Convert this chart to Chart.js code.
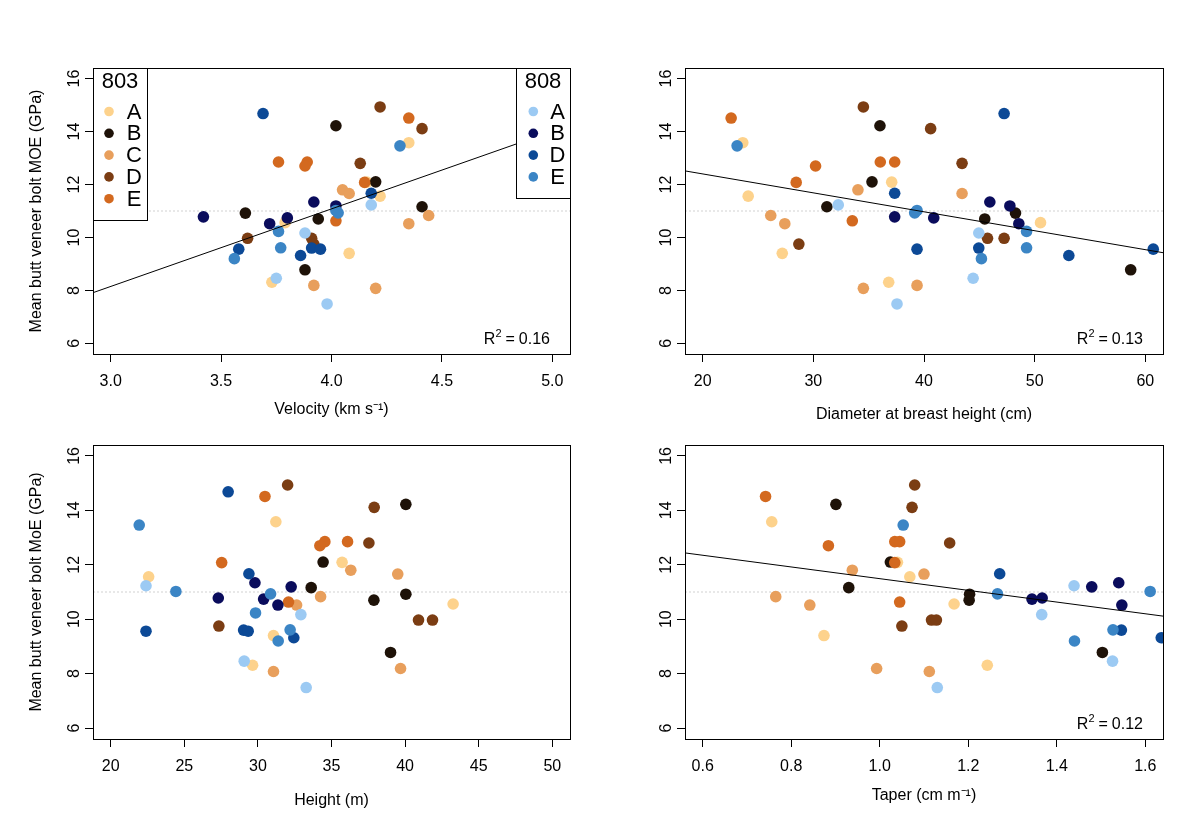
<!DOCTYPE html>
<html>
<head>
<meta charset="utf-8">
<script src="https://cdn.jsdelivr.net/npm/chart.js@4.4.0/dist/chart.umd.min.js"></script>
<style>
  html, body { margin: 0; padding: 0; background: #fff; }
  #wrap { position: relative; width: 1200px; height: 838px; overflow: hidden; }
  canvas { position: absolute; }
</style>
</head>
<body>
<div id="wrap">
  <canvas id="c1" width="600" height="430" style="left:0;top:0"></canvas>
  <canvas id="c2" width="600" height="430" style="left:600px;top:0"></canvas>
  <canvas id="c3" width="600" height="419" style="left:0;top:419px"></canvas>
  <canvas id="c4" width="600" height="419" style="left:600px;top:419px"></canvas>
</div>
<script>
// one entry per tree: clone group, MOE and the four predictors
const treeGroup = ['803D','808D','803E','803B','803D','803A','808E','803E','803E','803E',
  '803D','803B','803E','803A','803C','808D','803C','803A','808B','808A',
  '808B','803B','808E','808E','803B','803C','808B','808B','803B','803E',
  '803A','803C','808B','808E','808A','803D','803D','803D','808E','808D',
  '808D','808D','803A','808D','808E','803B','808A','803A','803C','803C','808A'];
const moe = [14.93,14.68,14.51,14.22,14.11,13.58,13.46,12.85,12.85,12.70,
  12.80,12.10,12.08,12.09,11.80,11.67,11.66,11.56,11.34,11.23,
  11.19,11.16,11.02,10.93,10.92,10.83,10.78,10.74,10.70,10.63,
  10.56,10.52,10.52,10.23,10.17,9.97,9.97,9.75,9.61,9.60,
  9.56,9.56,9.40,9.32,9.20,8.78,8.46,8.31,8.19,8.08,7.49];
const velocity = [4.22,3.69,4.35,4.02,4.41,4.35,4.31,3.76,3.89,3.88,
  4.13,4.20,4.15,4.16,4.05,4.18,4.08,4.22,3.92,4.18,
  4.02,4.41,4.02,4.03,3.61,4.44,3.42,3.80,3.94,4.02,
  3.79,4.35,3.72,3.76,3.88,3.62,3.91,3.92,3.77,3.91,
  3.58,3.95,4.08,3.86,3.56,3.88,3.75,3.73,3.92,4.20,3.98];
const dbh = [34.52,47.24,22.57,36.02,40.60,23.62,23.11,36.05,37.35,30.2,
  43.44,35.30,28.45,37.08,34.03,37.35,43.44,24.11,45.95,32.25,
  47.76,31.22,39.37,39.16,48.27,26.15,37.35,40.88,45.49,33.52,
  50.53,27.42,48.57,49.27,44.95,45.74,47.24,28.69,49.27,44.95,
  39.37,60.72,27.19,53.09,45.19,58.68,44.44,36.81,39.37,34.52,37.56];
const height = [32.02,27.98,30.48,40.05,37.90,31.22,21.94,34.55,36.09,34.21,
  37.54,34.43,27.54,35.72,36.31,29.39,39.50,22.58,29.80,22.40,
  32.26,33.62,24.43,30.86,40.05,34.26,27.31,30.39,37.88,32.08,
  43.26,32.63,31.36,29.84,32.92,40.91,41.86,27.35,32.19,29.03,
  22.40,29.34,31.06,32.44,31.38,39.01,29.07,29.64,39.69,31.06,33.28];
const taper = [1.079,null,0.742,0.901,1.073,0.756,1.053,1.034,1.045,0.884,
  1.158,1.024,1.034,1.040,0.938,1.271,1.100,1.068,1.540,1.439,
  1.479,0.930,1.611,1.266,1.203,0.765,1.367,1.344,1.202,1.045,
  1.168,0.842,1.547,null,1.366,1.117,1.128,1.050,1.527,1.546,
  null,null,0.874,1.636,1.440,1.503,1.526,1.243,0.993,1.112,1.130];

// axis limits and ticks
const moeLim = [6, 16];
const moeTicks = [6, 8, 10, 12, 14, 16];
const velocityLim = [3, 5];
const velocityTicks = [3.0, 3.5, 4.0, 4.5, 5.0];
const dbhLim = [20, 60];
const dbhTicks = [20, 30, 40, 50, 60];
const heightLim = [20, 50];
const heightTicks = [20, 25, 30, 35, 40, 45, 50];
const taperLim = [0.6, 1.6];
const taperTicks = [0.6, 0.8, 1.0, 1.2, 1.4, 1.6];

// fitted lines [intercept, slope] and R^2
const velocityFit = [-0.64, 2.93];
const dbhFit = [13.83, -0.0715];
const taperFit = [13.64, -2.15];
const r2Labels = ['0.16', '0.13', null, '0.12'];
const refMoe = 11;

const legend803 = ['A', 'B', 'C', 'D', 'E'];
const legend808 = ['A', 'B', 'D', 'E'];

const groupColors = {
  '803A': '#fdd28c', '803B': '#1e1208', '803C': '#e89f5c', '803D': '#7b3d13', '803E': '#d3691f',
  '808A': '#9ccaf3', '808B': '#0a0c5c', '808D': '#0c4996', '808E': '#3b85c5'
};
const drawOrder = ['808E','808D','808B','808A','803E','803D','803C','803B','803A'];
const FONT = '"Liberation Sans", Arial, Helvetica, sans-serif';

const extend = lim => {
  const s = lim[1] - lim[0];
  return [lim[0] - 0.04 * s, lim[1] + 0.04 * s];
};

const framePlugin = {
  id: 'frame',
  afterDatasetsDraw(chart, args, opts) {
    const {ctx, chartArea: a} = chart;
    ctx.save();
    ctx.strokeStyle = '#000';
    ctx.lineWidth = 1;
    ctx.strokeRect(Math.round(a.left) + 0.5, Math.round(a.top) + 0.5,
      Math.round(a.right - a.left), Math.round(a.bottom - a.top));
    ctx.fillStyle = '#000';
    if (opts.r2) {
      ctx.textBaseline = 'alphabetic';
      ctx.textAlign = 'left';
      ctx.font = '16px ' + FONT;
      const wR = ctx.measureText('R').width;
      const wEq = ctx.measureText('=').width;
      const wV = ctx.measureText(opts.r2).width;
      ctx.font = '11px ' + FONT;
      const w2 = ctx.measureText('2').width;
      const gap = 4;
      let x = a.right - 20 - (wR + w2 + gap + wEq + gap + wV);
      const y = a.bottom - 10;
      ctx.font = '16px ' + FONT;
      ctx.fillText('R', x, y);
      ctx.font = '11px ' + FONT;
      ctx.fillText('2', x + wR, y - 7);
      ctx.font = '16px ' + FONT;
      ctx.fillText('=', x + wR + w2 + gap, y);
      ctx.fillText(opts.r2, x + wR + w2 + gap + wEq + gap, y);
    }
    if (opts.legend) {
      const boxes = [
        {title: '803', clone: '803', items: legend803, x: a.left, h: 152, dotX: 16, txtX: 41},
        {title: '808', clone: '808', items: legend808, x: a.right - 54, h: 130, dotX: 17.3, txtX: 41.5}
      ];
      boxes.forEach(b => {
        ctx.fillStyle = '#fff';
        ctx.fillRect(Math.round(b.x) + 0.5, Math.round(a.top) + 0.5, 54, b.h);
        ctx.strokeStyle = '#000';
        ctx.strokeRect(Math.round(b.x) + 0.5, Math.round(a.top) + 0.5, 54, b.h);
        ctx.fillStyle = '#000';
        ctx.font = '22px ' + FONT;
        ctx.textAlign = 'center';
        ctx.textBaseline = 'middle';
        ctx.fillText(b.title, b.x + 27, a.top + 14);
        b.items.forEach((lab, i) => {
          const y = a.top + 43.5 + i * 21.8;
          ctx.fillStyle = groupColors[b.clone + lab];
          ctx.beginPath();
          ctx.arc(b.x + b.dotX, y, 4.8, 0, Math.PI * 2);
          ctx.fill();
          ctx.fillStyle = '#000';
          ctx.fillText(lab, b.x + b.txtX, y + 1);
        });
      });
    }
    ctx.restore();
  }
};

function makePanel(p) {
  const [xMin, xMax] = extend(p.lim);
  const [yMin, yMax] = extend(moeLim);
  const datasets = [];
  if (p.fit) {
    datasets.push({
      data: [{x: xMin, y: p.fit[0] + p.fit[1] * xMin}, {x: xMax, y: p.fit[0] + p.fit[1] * xMax}],
      showLine: true, pointRadius: 0, borderColor: '#000', borderWidth: 1, clip: 0
    });
  }
  drawOrder.forEach(g => {
    const pts = [];
    moe.forEach((y, i) => {
      if (treeGroup[i] === g && p.x[i] !== null) pts.push({x: p.x[i], y: y});
    });
    datasets.push({
      data: pts, pointRadius: 5.8, pointBorderWidth: 0,
      backgroundColor: groupColors[g], pointBackgroundColor: groupColors[g], clip: 0
    });
  });
  datasets.push({
    data: [{x: xMin, y: refMoe}, {x: xMax, y: refMoe}],
    showLine: true, pointRadius: 0, borderColor: '#d2d2d2', borderWidth: 1, borderDash: [2, 2], clip: 0
  });

  new Chart(document.getElementById(p.id), {
    type: 'scatter',
    data: {datasets},
    options: {
      responsive: false,
      animation: false,
      devicePixelRatio: 1,
      events: [],
      layout: {padding: p.pad},
      plugins: {legend: {display: false}, tooltip: {enabled: false},
        frame: {r2: p.r2, legend: p.legend}},
      scales: {
        x: {
          type: 'linear', min: xMin, max: xMax,
          afterBuildTicks: s => { s.ticks = p.ticks.map(v => ({value: v})); },
          afterFit: s => { s.height = p.xH; },
          ticks: {callback: v => v.toFixed(p.dec), font: {family: FONT, size: 16}, color: '#000',
            padding: 10, maxRotation: 0, autoSkip: false},
          grid: {drawOnChartArea: false, drawTicks: true, tickLength: 8, color: '#000'},
          border: {display: false},
          title: {display: true, text: p.xTitle, color: '#000', font: {family: FONT, size: 16},
            padding: {top: 0, bottom: p.xTitlePad}}
        },
        y: {
          type: 'linear', min: yMin, max: yMax,
          afterBuildTicks: s => { s.ticks = moeTicks.map(v => ({value: v})); },
          afterFit: s => { s.width = p.yW; },
          ticks: {font: {family: FONT, size: 16}, color: '#000', padding: 2,
            minRotation: 90, maxRotation: 90, crossAlign: 'center', autoSkip: false},
          grid: {drawOnChartArea: false, drawTicks: true, tickLength: 8, color: '#000'},
          border: {display: false},
          title: {display: !!p.yTitle, text: p.yTitle || '', color: '#000', font: {family: FONT, size: 16},
            padding: {top: 27, bottom: 0}}
        }
      }
    },
    plugins: [framePlugin]
  });
}

makePanel({id: 'c1', x: velocity, lim: velocityLim, ticks: velocityTicks, dec: 1,
  xTitle: 'Velocity (km s\u207B\u00B9)', yTitle: 'Mean butt veneer bolt MOE (GPa)',
  fit: velocityFit, r2: r2Labels[0], legend: true,
  pad: {top: 68, right: 30, left: 0, bottom: 0}, yW: 93, xH: 76, xTitlePad: 10.4});
makePanel({id: 'c2', x: dbh, lim: dbhLim, ticks: dbhTicks, dec: 0,
  xTitle: 'Diameter at breast height (cm)', yTitle: null,
  fit: dbhFit, r2: r2Labels[1], legend: false,
  pad: {top: 68, right: 37, left: 0, bottom: 0}, yW: 85, xH: 76, xTitlePad: 5.4});
makePanel({id: 'c3', x: height, lim: heightLim, ticks: heightTicks, dec: 0,
  xTitle: 'Height (m)', yTitle: 'Mean butt veneer bolt MoE (GPa)',
  fit: null, r2: r2Labels[2], legend: false,
  pad: {top: 26, right: 30, left: 0, bottom: 0}, yW: 93, xH: 99, xTitlePad: 27.4});
makePanel({id: 'c4', x: taper, lim: taperLim, ticks: taperTicks, dec: 1,
  xTitle: 'Taper (cm m\u207B\u00B9)', yTitle: null,
  fit: taperFit, r2: r2Labels[3], legend: false,
  pad: {top: 26, right: 37, left: 0, bottom: 0}, yW: 85, xH: 99, xTitlePad: 32.4});
</script>
</body>
</html>
